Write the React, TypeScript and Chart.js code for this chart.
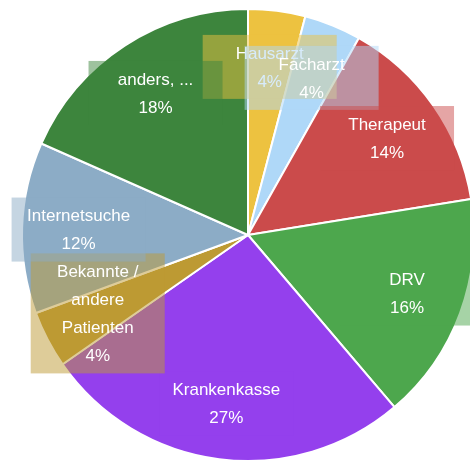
import React, { useEffect, useRef } from "react";
import { Chart, registerables } from "chart.js";

Chart.register(...registerables);

const categories: (string | string[])[] = [
  "Hausarzt",
  "Facharzt",
  "Therapeut",
  "DRV",
  "Krankenkasse",
  ["Bekannte /", "andere", "Patienten"],
  "Internetsuche",
  "anders, ...",
];
const counts = [2, 2, 7, 8, 13, 2, 6, 9];
const colors = [
  "#edc240",
  "#afd8f8",
  "#cb4b4b",
  "#4da74d",
  "#9440ed",
  "#bd9a33",
  "#8cacc6",
  "#3d853d",
];

function hexToRgba(hex: string, a: number) {
  const n = parseInt(hex.slice(1), 16);
  return `rgba(${(n >> 16) & 255},${(n >> 8) & 255},${n & 255},${a})`;
}

const boxLabelsPlugin = {
  id: "boxLabels",
  afterDatasetsDraw(chart: any) {
    const ctx = chart.ctx;
    const meta = chart.getDatasetMeta(0);
    const data = chart.data.datasets[0].data as number[];
    const total = data.reduce((a, b) => a + b, 0);
    const boxW = 134;
    const lineH = 28;
    const pad = 4;
    ctx.save();
    ctx.font = '17px "Liberation Sans", Arial, sans-serif';
    ctx.textAlign = "center";
    ctx.textBaseline = "middle";
    meta.data.forEach((arc: any, i: number) => {
      const p = arc.getProps(["x", "y", "startAngle", "endAngle", "outerRadius"], true);
      const mid = (p.startAngle + p.endAngle) / 2;
      const r = p.outerRadius * 0.75;
      const cx = p.x + Math.cos(mid) * r;
      const cy = p.y + Math.sin(mid) * r;
      const lbl = chart.data.labels[i];
      const lines = (Array.isArray(lbl) ? lbl.slice() : [lbl]) as string[];
      lines.push(Math.round((data[i] / total) * 100) + "%");
      const h = lines.length * lineH + pad * 2;
      ctx.fillStyle = hexToRgba(colors[i], 0.5);
      ctx.fillRect(cx - boxW / 2, cy - h / 2, boxW, h);
      ctx.fillStyle = "#ffffff";
      lines.forEach((t, j) => {
        ctx.fillText(t, cx, cy - h / 2 + pad + lineH * j + lineH / 2 + 1);
      });
    });
    ctx.restore();
  },
};

export default function App() {
  const ref = useRef<HTMLCanvasElement>(null);
  useEffect(() => {
    const body = document.body;
    const prevM = body.style.margin;
    const prevO = body.style.overflow;
    body.style.margin = "0";
    body.style.overflow = "hidden";
    if (!ref.current) return;
    const chart = new Chart(ref.current, {
      type: "pie",
      data: {
        labels: categories as any,
        datasets: [
          {
            data: counts,
            backgroundColor: colors,
            borderColor: "#ffffff",
            borderWidth: 2,
            hoverOffset: 0,
          },
        ],
      },
      options: {
        animation: false,
        responsive: true,
        maintainAspectRatio: false,
        layout: { padding: { left: 0, right: 0, top: 8, bottom: 2 } },
        plugins: {
          legend: { display: false },
          tooltip: { enabled: false },
        },
      },
      plugins: [boxLabelsPlugin],
    });
    return () => {
      chart.destroy();
      body.style.margin = prevM;
      body.style.overflow = prevO;
    };
  }, []);
  return (
    <div style={{ width: 470, height: 464, overflow: "hidden" }}>
      <div style={{ position: "relative", width: 496, height: 464 }}>
        <canvas ref={ref} />
      </div>
    </div>
  );
}
